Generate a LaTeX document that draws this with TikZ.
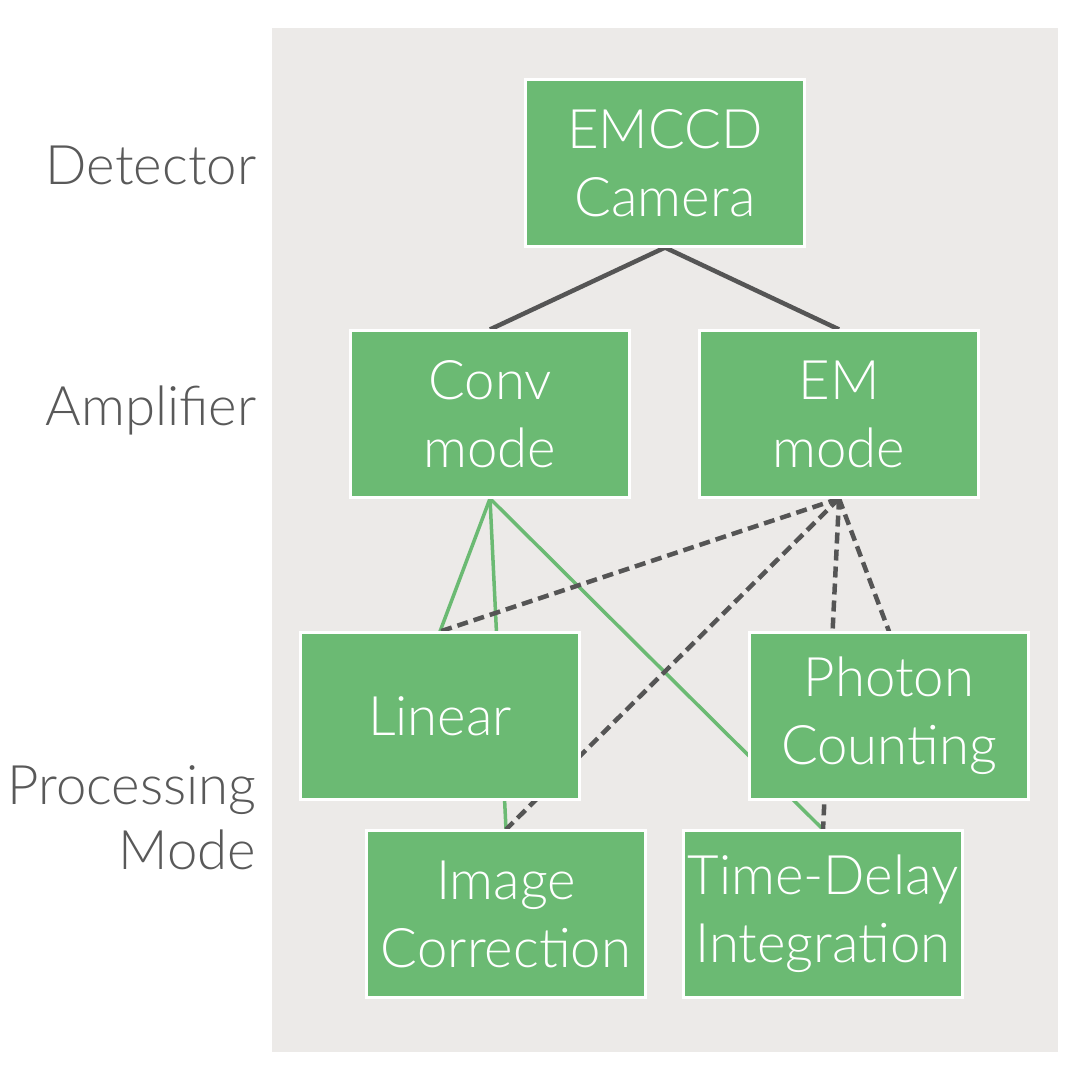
\documentclass[tikz,border=0pt]{standalone}
\usepackage{fontspec}
\setmainfont{Lato Light}

\definecolor{boxgreen}{HTML}{6BBA73}
\definecolor{panelgray}{HTML}{ECEAE8}
\definecolor{linegray}{HTML}{555555}
\definecolor{labelgray}{HTML}{595959}

\pgfdeclarelayer{panel}
\pgfdeclarelayer{links}
\pgfsetlayers{panel,links,main}

\tikzset{
  box/.style={rectangle, fill=boxgreen, draw=white, line width=0.03cm,
    minimum width=2.79cm, minimum height=1.66cm, inner sep=0pt,
    text=white, align=center, font=\fontsize{15.5}{19.3}\selectfont},
  level/.style={anchor=east, align=right, text=labelgray, inner sep=0pt,
    font=\fontsize{15.5}{18.5}\selectfont},
  camlink/.style={draw=linegray, line width=0.045cm},
  convlink/.style={draw=boxgreen, line width=0.035cm},
  emlink/.style={draw=linegray, line width=0.045cm, dash pattern=on 0.11cm off 0.06cm},
}

\begin{document}
\begin{tikzpicture}[x=0.01cm, y=-0.01cm]

\useasboundingbox (0,0) rectangle (1080,1080);

% Panel
\begin{pgfonlayer}{panel}
\fill[panelgray] (272,28) rectangle (1058,1052);
\end{pgfonlayer}

% Boxes
\node[box] (camera) at (665,163) {EMCCD\\Camera};
\node[box] (conv) at (490,414) {Conv\\mode};
\node[box] (em) at (839,414) {EM\\mode};
\node[box] (linear) at (440,716) {Linear};
\node[box] (photon) at (889,716) {Photon\\Counting};
\node[box] (imgcorr) at (506,914) {Image\\Correction};
\node[box] (tdi) at (823,914) {Time-Delay\\Integration};

% Level labels
\node[level] (detector) at (257,165) {Detector};
\node[level] (amplifier) at (257,410) {Amplifier};
\node[level] (processing) at (257,818) {Processing\\Mode};

% Links
\begin{pgfonlayer}{links}
\draw[camlink] (camera.south) -- (conv.north);
\draw[camlink] (camera.south) -- (em.north);

\foreach \t in {linear, imgcorr, tdi} {
  \draw[convlink] (conv.south) -- (\t.north);
}

\foreach \t in {linear, imgcorr, photon, tdi} {
  \draw[emlink] (em.south) -- (\t.north);
}
\end{pgfonlayer}

\end{tikzpicture}
\end{document}
